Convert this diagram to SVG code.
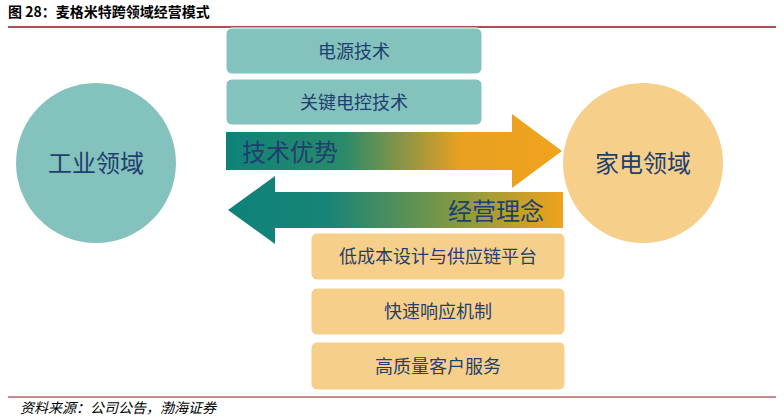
<svg xmlns="http://www.w3.org/2000/svg" width="784" height="420" viewBox="0 0 784 420">
<defs>
<linearGradient id="gR" x1="0" x2="1" y1="0" y2="0"><stop offset="0" stop-color="#0e8279"/><stop offset="0.35" stop-color="#2a8a6a"/><stop offset="0.7" stop-color="#e9a021"/><stop offset="1" stop-color="#f0a31c"/></linearGradient>
<linearGradient id="gL" x1="0" x2="1" y1="0" y2="0"><stop offset="0" stop-color="#0e8279"/><stop offset="0.3" stop-color="#178477"/><stop offset="0.7" stop-color="#8a9a40"/><stop offset="1" stop-color="#f0a31c"/></linearGradient>
<style>
.t{font-family:"Noto Sans CJK SC",sans-serif;fill:#1f3f6e;text-anchor:middle}
.bt{fill:#84c2bd;stroke:#ffffff;stroke-width:1}
.bo{fill:#f6cf8a;stroke:#ffffff;stroke-width:1}
</style>
</defs>
<text x="8" y="17" font-family="Noto Sans CJK SC,serif" font-weight="bold" font-size="14" fill="#000">图 28：麦格米特跨领域经营模式</text>
<line x1="8" y1="27" x2="776" y2="27" stroke="#8b1a1a" stroke-width="1.5"/>
<g id="n-industry"><circle cx="96" cy="163" r="80" fill="#84c2bd"/><text class="t" x="96" y="172" font-size="24">工业领域</text></g>
<g id="n-home"><circle cx="643" cy="163" r="80" fill="#f6cf8a"/><text class="t" x="643" y="172" font-size="24">家电领域</text></g>
<g id="n-b1"><rect class="bt" x="226" y="28" width="256" height="46" rx="6"/><text class="t" x="354" y="58" font-size="18">电源技术</text></g>
<g id="n-b2"><rect class="bt" x="226" y="79" width="256" height="46" rx="6"/><text class="t" x="354" y="109" font-size="18">关键电控技术</text></g>
<g id="connectors">
<path d="M226,132 H512 V114 L562,151 L512,188 V170 H226 Z" fill="url(#gR)"/>
<text class="t" x="290" y="161" font-size="24" style="text-anchor:middle">技术优势</text>
<path d="M563,192 H275 V176 L228,210 L275,244 V228 H563 Z" fill="url(#gL)"/>
<text class="t" x="496" y="220" font-size="24">经营理念</text>
</g>
<g id="n-b3"><rect class="bo" x="311" y="233" width="254" height="47" rx="6"/><text class="t" x="438" y="263" font-size="18">低成本设计与供应链平台</text></g>
<g id="n-b4"><rect class="bo" x="311" y="288" width="254" height="47" rx="6"/><text class="t" x="438" y="318" font-size="18">快速响应机制</text></g>
<g id="n-b5"><rect class="bo" x="311" y="342" width="254" height="48" rx="6"/><text class="t" x="438" y="373" font-size="18">高质量客户服务</text></g>
<line x1="8" y1="397" x2="776" y2="397" stroke="#8b1a1a" stroke-width="1"/>
<text x="20" y="413" font-family="Noto Sans CJK SC,sans-serif" font-style="italic" font-size="14" fill="#000">资料来源：公司公告，渤海证券</text>
</svg>
